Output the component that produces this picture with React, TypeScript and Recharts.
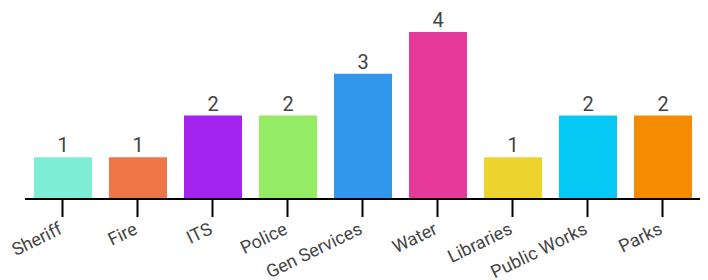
import React from "react";
import { BarChart, Bar, XAxis, YAxis, Cell, LabelList } from "recharts";

const categories = ["Sheriff", "Fire", "ITS", "Police", "Gen Services", "Water", "Libraries", "Public Works", "Parks"];
const values = [1, 1, 2, 2, 3, 4, 1, 2, 2];
const colors = ["#7DEED5", "#EF7646", "#A224EE", "#93EC64", "#3296EC", "#E63A9A", "#ECD42C", "#06C8F5", "#F58C00"];

const data = categories.map((name, i) => ({ name, value: values[i] }));

const AngledTick = (props: any) => {
  const { x, y, payload } = props;
  const bx = x + 1;
  const by = y + 14;
  return (
    <text
      x={bx}
      y={by}
      transform={`rotate(-26, ${bx}, ${by})`}
      textAnchor="end"
      fill="#444"
      fontSize={18}
      fontFamily="Roboto"
    >
      {payload.value}
    </text>
  );
};

export default function App() {
  return (
    <div style={{ position: "absolute", left: 0, top: 0, fontFamily: "Roboto" }}>
      <BarChart width={708} height={280} data={data} margin={{ top: 32, right: 8, left: 25, bottom: 0 }}>
        <YAxis hide domain={[0, 4]} />
        <XAxis
          dataKey="name"
          interval={0}
          height={81}
          tickSize={18}
          tickMargin={2}
          axisLine={{ stroke: "#000", strokeWidth: 2 }}
          tickLine={{ stroke: "#000", strokeWidth: 2 }}
          tick={<AngledTick />}
        />
        <Bar dataKey="value" barSize={58} isAnimationActive={false}>
          {data.map((d, i) => (
            <Cell key={d.name} fill={colors[i]} />
          ))}
          <LabelList dataKey="value" position="top" offset={5} fill="#444" fontSize={20} fontFamily="Roboto" />
        </Bar>
      </BarChart>
    </div>
  );
}
